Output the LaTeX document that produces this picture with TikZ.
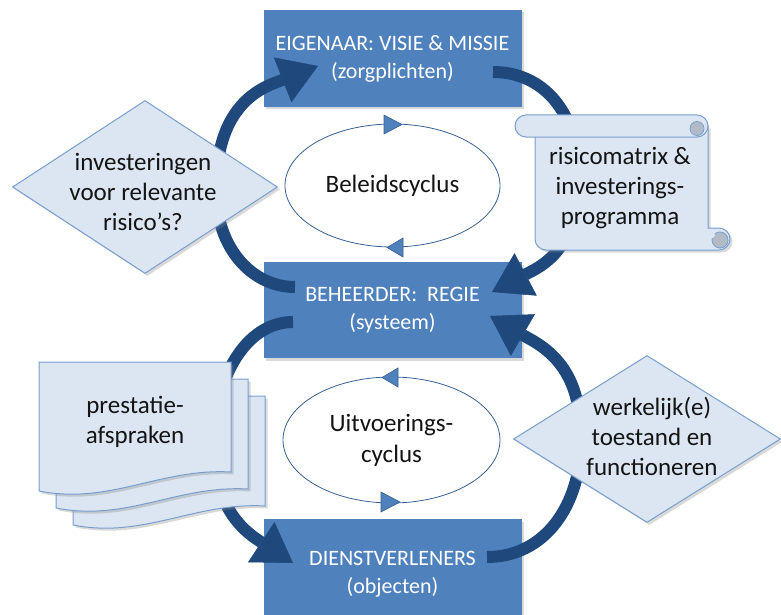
\documentclass[tikz,border=0pt]{standalone}
\usepackage{fontspec}
\setmainfont{Carlito}
\usetikzlibrary{arrows.meta,shapes.geometric,shadows}
\definecolor{boxblue}{RGB}{79,129,189}
\definecolor{arcblue}{RGB}{31,73,125}
\definecolor{paleblue}{RGB}{220,230,242}
\definecolor{edgeblue}{RGB}{120,158,208}
\definecolor{markedge}{RGB}{55,96,146}
\definecolor{curlgray}{RGB}{178,186,198}
\definecolor{inktext}{RGB}{20,20,20}
\begin{document}
\begin{tikzpicture}[x=1pt,y=-1pt,
  softshadow/.style={drop shadow={opacity=0.3,shadow xshift=2.5pt,shadow yshift=-2.5pt}},
  rolebox/.style={rectangle, fill=boxblue, draw=none, text=white, align=center, inner sep=0pt,
    minimum width=258pt, minimum height=97pt, font=\fontsize{22}{28}\selectfont, softshadow},
  bigarc/.style={draw=arcblue, line width=12pt, line join=round,
    -{Triangle[length=38pt,width=48pt,line width=0.5pt]}},
  cyc/.style={ellipse, draw=markedge, line width=0.8pt, fill=white, inner sep=0pt, align=center,
    text=inktext, font=\fontsize{25}{31}\selectfont},
  cycmark/.style={fill=boxblue, draw=markedge, line width=0.6pt, line join=miter},
  paleshape/.style={fill=paleblue, draw=edgeblue, line width=1pt},
  dia/.style={diamond, paleshape, inner sep=0pt, softshadow},
  txt/.style={align=center, text=inktext, font=\fontsize{25}{30}\selectfont, inner sep=0pt}
]
\useasboundingbox (0,0) rectangle (781,615);

% role boxes
\node[rolebox] (eig) at (392.5,58.5) {EIGENAAR: VISIE \& MISSIE\\(zorgplichten)};
\node[rolebox, minimum height=96pt] (beh) at (392.5,310) {BEHEERDER:\ \ REGIE\\(systeem)};
\node[rolebox, minimum height=110pt] (dien) at (392.5,574) {DIENSTVERLENERS\\(objecten)};

% arc end points
\coordinate (a1s) at (295,287);
\coordinate (a1m) at (216,190);
\coordinate (a1b) at (272,84);
\coordinate (a1t) at (318,66);
\coordinate (a2s) at (493,72);
\coordinate (a2m) at (578,172);
\coordinate (a2b) at (534,270);
\coordinate (a2t) at (492,292);
\coordinate (a3s) at (293,322);
\coordinate (a3m) at (214,440);
\coordinate (a3b) at (258,540);
\coordinate (a3t) at (293,563);
\coordinate (a4s) at (487,557);
\coordinate (a4m) at (581,440);
\coordinate (a4b) at (528,338);
\coordinate (a4t) at (490,316);

% big cycle arcs
\draw[bigarc] (a1s) .. controls (252,287) and (216,248) .. (a1m)
  .. controls (216,130) and (238,98) .. (a1b) -- (a1t);
\draw[bigarc] (a2s) .. controls (545,72) and (578,115) .. (a2m)
  .. controls (578,222) and (566,252) .. (a2b) -- (a2t);
\draw[bigarc] (a3s) .. controls (245,322) and (214,380) .. (a3m)
  .. controls (214,490) and (228,520) .. (a3b) -- (a3t);
\draw[bigarc] (a4s) .. controls (545,557) and (581,505) .. (a4m)
  .. controls (581,390) and (566,358) .. (a4b) -- (a4t);

% inner cycles
\node[cyc, minimum width=215pt, minimum height=123pt] (bel) at (392.5,185.5) {Beleidscyclus};
\node[cyc, minimum width=217pt, minimum height=126pt] (uit) at (391.5,440) {Uitvoerings-\\cyclus};
\filldraw[cycmark] (384,115) -- (402,124.5) -- (384,134) -- cycle;
\filldraw[cycmark] (403,238) -- (387,247.5) -- (403,257) -- cycle;
\filldraw[cycmark] (398,368) -- (382,377.5) -- (398,387) -- cycle;
\filldraw[cycmark] (381,492) -- (400,502) -- (381,512) -- cycle;

% diamonds
\node[dia, minimum width=265pt, minimum height=173pt,
  label={[txt, xshift=-2pt, yshift=-5pt]center:investeringen\\voor relevante\\risico’s?}] (q1) at (145,187) {};
\node[dia, minimum width=267pt, minimum height=167pt,
  label={[txt, xshift=5pt, yshift=3pt]center:werkelijk(e)\\toestand en\\functioneren}] (q2) at (647,439) {};

% scroll
\path[paleshape, softshadow] (535,126) -- (535,239) .. controls (535,245) and (540,250) .. (546,250)
  -- (719,250) .. controls (725,250) and (730,245) .. (730,239)
  .. controls (730,233) and (725,228) .. (719,228) -- (708,228) -- (708,126) -- cycle;
\path[paleshape] (526,115) -- (697,115) .. controls (703,115) and (708,120) .. (708,126)
  .. controls (708,132) and (703,137) .. (697,137) -- (526,137)
  .. controls (520,137) and (515,132) .. (515,126) .. controls (515,120) and (520,115) .. (526,115) -- cycle;
\filldraw[fill=curlgray, draw=edgeblue, line width=0.8pt] (697,128.5) circle[radius=7pt];
\filldraw[fill=curlgray, draw=edgeblue, line width=0.8pt] (720,240) circle[radius=8pt];
\fill[paleblue] (712,235) circle[radius=3pt];
\node[txt] (scr) at (620,188) {risicomatrix \&\\investerings-\\programma};

% document stack
\path[paleshape, softshadow] (73,396) -- (265,396) -- (265,506) .. controls (194,502) and (144,539) .. (73,525) -- cycle;
\path[paleshape, softshadow] (56,379) -- (248,379) -- (248,489) .. controls (177,485) and (127,522) .. (56,508) -- cycle;
\path[paleshape, softshadow] (39,362) -- (231,362) -- (231,472) .. controls (160,468) and (110,505) .. (39,491) -- cycle;
\node[txt] (doc) at (135,422) {prestatie-\\afspraken};
\end{tikzpicture}
\end{document}
